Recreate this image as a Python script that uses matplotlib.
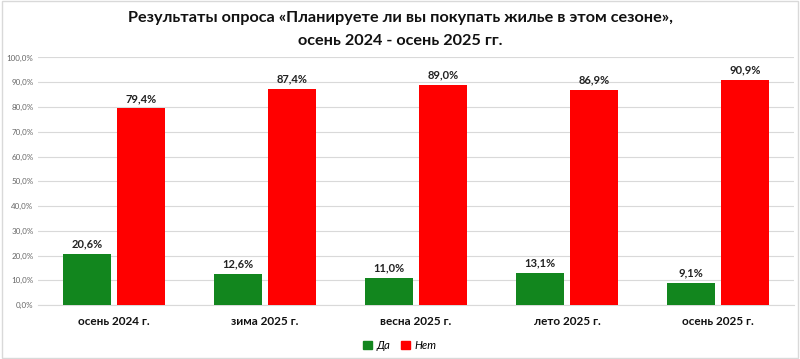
import numpy as np
import matplotlib.pyplot as plt
from matplotlib.patches import Rectangle

plt.rcParams['font.family'] = ['Lato', 'DejaVu Sans']

categories = ['осень 2024 г.', 'зима 2025 г.', 'весна 2025 г.', 'лето 2025 г.', 'осень 2025 г.']
yes_values = [20.6, 12.6, 11.0, 13.1, 9.1]
no_values = [79.4, 87.4, 89.0, 86.9, 90.9]
yticks = np.arange(0, 101, 10)

GREEN = '#12861e'
RED = '#ff0000'

fig = plt.figure(figsize=(8, 3.59), dpi=100)
fig.patch.set_facecolor('white')
ax = fig.add_axes([0.048, 0.15, 0.944, 0.69])

x = np.arange(len(categories))
w = 0.32
ax.bar(x - 0.18, yes_values, w, color=GREEN, zorder=3)
ax.bar(x + 0.18, no_values, w, color=RED, zorder=3)

# подписи значений над столбцами
for xi, v in zip(x, yes_values):
    ax.text(xi - 0.18, v + 1.8, f"{v:.1f}%".replace('.', ','), ha='center', va='bottom',
            fontsize=8, fontweight='bold', color='#222222')
for xi, v in zip(x, no_values):
    ax.text(xi + 0.18, v + 1.8, f"{v:.1f}%".replace('.', ','), ha='center', va='bottom',
            fontsize=8, fontweight='bold', color='#222222')

ax.set_xlim(-0.5, len(categories) - 0.5)
ax.set_ylim(0, 100)
ax.set_yticks(yticks)
ax.set_yticklabels([f"{t:.1f}%".replace('.', ',') for t in yticks], fontsize=5.8, color='#666666')
ax.set_xticks(x)
ax.set_xticklabels(categories, fontsize=8.5, fontweight='bold', color='#111111')
ax.tick_params(axis='both', length=0)
ax.tick_params(axis='x', pad=8)
ax.grid(axis='y', color='#d9d9d9', linewidth=0.8, zorder=0)
for s in ['top', 'right', 'left']:
    ax.spines[s].set_visible(False)
ax.spines['bottom'].set_color('#d9d9d9')

fig.text(0.5, 0.95, 'Результаты опроса «Планируете ли вы покупать жилье в этом сезоне»,',
         ha='center', va='center', fontsize=11.7, fontweight='bold', color='#111111')
fig.text(0.5, 0.885, 'осень 2024 - осень 2025 гг.',
         ha='center', va='center', fontsize=11.7, fontweight='bold', color='#111111')

handles = [Rectangle((0, 0), 1, 1, color=GREEN), Rectangle((0, 0), 1, 1, color=RED)]
leg = fig.legend(handles, ['Да', 'Нет'], loc='center', bbox_to_anchor=(0.5, 0.038), ncol=2,
                 frameon=False, handlelength=0.8, handleheight=0.8, handletextpad=0.4,
                 columnspacing=1.0, prop={'size': 8, 'style': 'italic'})

fig.add_artist(Rectangle((0.002, 0.003), 0.996, 0.994, transform=fig.transFigure,
                         fill=False, edgecolor='#d9d9d9', linewidth=1))

fig.savefig('out.png', dpi=100, facecolor='white')
